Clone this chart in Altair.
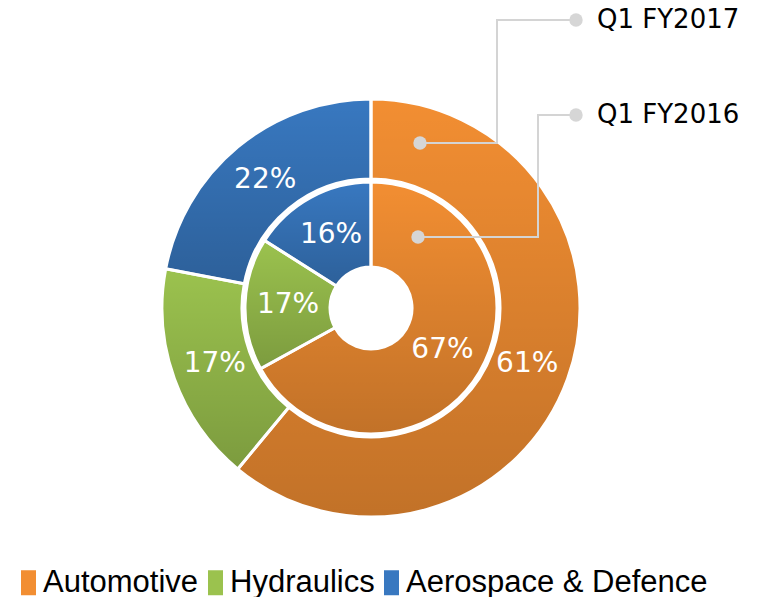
import altair as alt
import pandas as pd

categories = ["Automotive", "Hydraulics", "Aerospace & Defence"]
fy2017 = [61, 17, 22]   # outer ring, Q1 FY2017
fy2016 = [67, 17, 16]   # inner ring, Q1 FY2016
colors = ["#F28E32", "#9BC24E", "#3878C0"]

ring_names = ["Q1 FY2017", "Q1 FY2016"]

rows = []
for ring, vals in zip(ring_names, [fy2017, fy2016]):
    for i, (c, v) in enumerate(zip(categories, vals)):
        rows.append({"ring": ring, "category": c, "value": v, "order": i, "label": f"{v}%"})
df = pd.DataFrame(rows)

# callout annotation paths (pixel positions inside the plot area)
callout_ring = ["Q1 FY2017"] * 4 + ["Q1 FY2016"] * 4
callout_step = [0, 1, 2, 3] * 2
callout_x = [412, 489, 489, 568, 410, 530, 530, 568]
callout_y = [135, 135, 12, 12, 229, 229, 107, 107]
leader = pd.DataFrame({"ring": callout_ring, "step": callout_step, "x": callout_x, "y": callout_y})
label_x = [589, 589]
label_y = [12, 107]
labels = pd.DataFrame({"ring": ring_names, "x": label_x, "y": label_y})

CX, CY = 363, 300

shade = alt.LinearGradient(
    gradient="linear",
    stops=[alt.GradientStop(color="rgba(0,0,0,0)", offset=0),
           alt.GradientStop(color="rgba(0,0,0,0.2)", offset=1)],
    x1=0, x2=0, y1=0, y2=1,
)

legend = alt.Legend(
    title=None, orient="none", legendX=4, legendY=559, direction="horizontal",
    symbolType="M-0.52,-1H0.68V1H-0.52Z", symbolSize=625, symbolStrokeWidth=0,
    symbolOpacity=1, labelFont="Liberation Sans", labelFontSize=31,
    labelColor="black", labelOffset=0, columnPadding=0, padding=0,
    labelLimit=500,
)

theta = alt.Theta("value:Q", stack=True)
order = alt.Order("order:Q")


def ring_layers(ring, r_out, r_in, r_lab, show_legend):
    base = alt.Chart(df).transform_filter(alt.datum.ring == ring)
    fill = alt.Fill("category:N", scale=alt.Scale(domain=categories, range=colors),
                    legend=legend if show_legend else None)
    arcs = base.mark_arc(radius=r_out, radius2=r_in, strokeWidth=0).encode(
        theta=theta, order=order, fill=fill, x=alt.value(CX), y=alt.value(CY))
    over = base.mark_arc(radius=r_out, radius2=r_in, fill=shade, stroke="white",
                         strokeWidth=3).encode(
        theta=theta, order=order, x=alt.value(CX), y=alt.value(CY))
    text = base.mark_text(radius=r_lab, font="DejaVu Sans", fontSize=28,
                          color="white").encode(
        theta=theta, order=order, text="label:N", x=alt.value(CX), y=alt.value(CY))
    return [arcs, over, text]


layers = ring_layers("Q1 FY2017", 209, 129, 166, True) + ring_layers("Q1 FY2016", 126, 41, 83, False)

lines = alt.Chart(leader).mark_line(color="#D4D4D4", strokeWidth=2).encode(
    x=alt.X("x:Q", scale=None), y=alt.Y("y:Q", scale=None),
    detail="ring:N", order="step:Q")
start_dots = alt.Chart(leader).transform_filter(alt.datum.step == 0).mark_circle(
    color="#D6D6D6", opacity=1, size=180).encode(
    x=alt.X("x:Q", scale=None), y=alt.Y("y:Q", scale=None))
end_dots = alt.Chart(leader).transform_filter(alt.datum.step == 3).mark_circle(
    color="#D6D6D6", opacity=1, size=180).encode(
    x=alt.X("x:Q", scale=None), y=alt.Y("y:Q", scale=None))
texts = alt.Chart(labels).mark_text(align="left", baseline="middle", font="DejaVu Sans",
                                    fontSize=26, color="black").encode(
    x=alt.X("x:Q", scale=None), y=alt.Y("y:Q", scale=None), text="ring:N")

chart = alt.layer(*layers, lines, start_dots, end_dots, texts).properties(
    width=741, height=589, autosize=alt.AutoSizeParams(type="none"), padding=0,
    background="white",
).configure_view(stroke=None)

chart.save("out.html", embed_options={"renderer": "svg", "actions": False})
